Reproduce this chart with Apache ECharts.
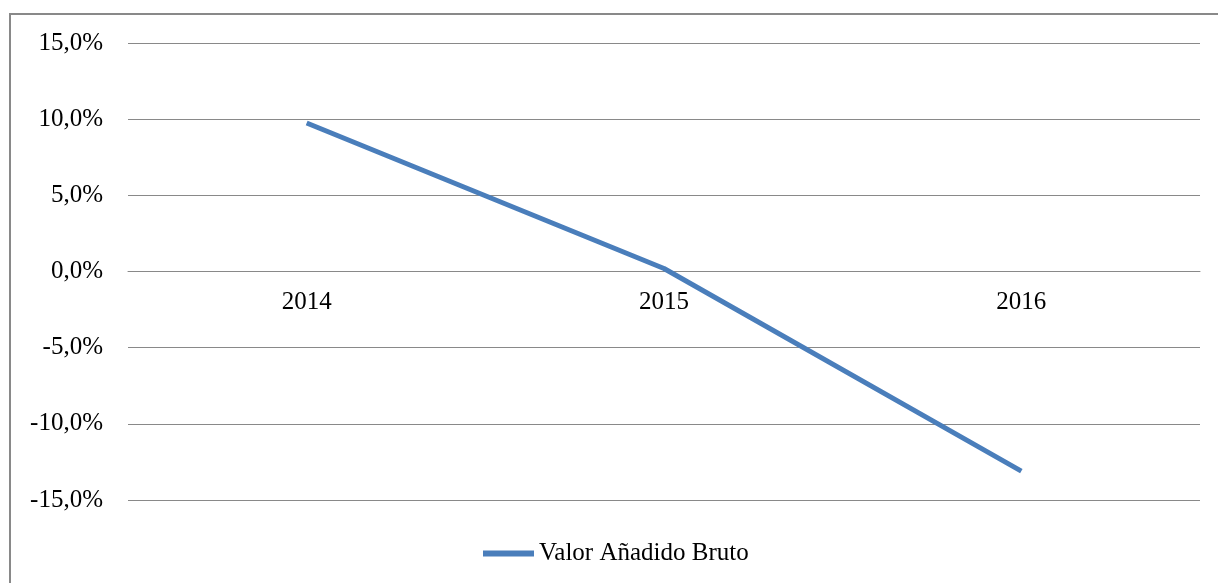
<!DOCTYPE html>
<html><head><meta charset="utf-8">
<script src="https://cdn.jsdelivr.net/npm/echarts@6/dist/echarts.min.js"></script>
<style>html,body{margin:0;padding:0;background:#fff}#c{width:1218px;height:583px}</style>
</head><body><div id="c"></div>
<script>
var categories = ['2014', '2015', '2016'];
var seriesName = 'Valor Añadido Bruto';
var values = [9.75, 0.2, -13.1];
var yMin = -15, yMax = 15, yStep = 5;

var chart = echarts.init(document.getElementById('c'), null, {renderer: 'canvas'});
var font = 'Liberation Serif';
chart.setOption({
  backgroundColor: '#fff',
  animation: false,
  graphic: [{type: 'rect', shape: {x: 10, y: 14, width: 1400, height: 800},
    style: {fill: 'none', stroke: '#898989', lineWidth: 2}, z: -1}],
  grid: {left: 128, right: 18, top: 43, bottom: 83, containLabel: false},
  legend: {data: [seriesName], left: 478, top: 536, icon: 'rect', itemWidth: 51, itemHeight: 6, itemGap: 5,
    textStyle: {fontFamily: font, fontSize: 25, color: '#000'}},
  xAxis: {type: 'category', data: categories, boundaryGap: true, position: 'bottom', offset: -228.5,
    axisLine: {onZero: false, lineStyle: {color: '#898989', width: 1}},
    axisTick: {show: false},
    axisLabel: {fontFamily: font, fontSize: 25, color: '#000', margin: 18}},
  yAxis: {type: 'value', min: yMin, max: yMax, interval: yStep,
    axisLine: {show: false}, axisTick: {show: false},
    splitLine: {lineStyle: {color: '#898989', width: 1}},
    axisLabel: {fontFamily: font, fontSize: 25, color: '#000', margin: 25,
      formatter: function (v) { return v.toFixed(1).replace('.', ',') + '%'; }}},
  series: [{name: seriesName, type: 'line', data: values, symbol: 'none',
    lineStyle: {color: '#4a7ebb', width: 5}, itemStyle: {color: '#4a7ebb'}}]
});
</script></body></html>
